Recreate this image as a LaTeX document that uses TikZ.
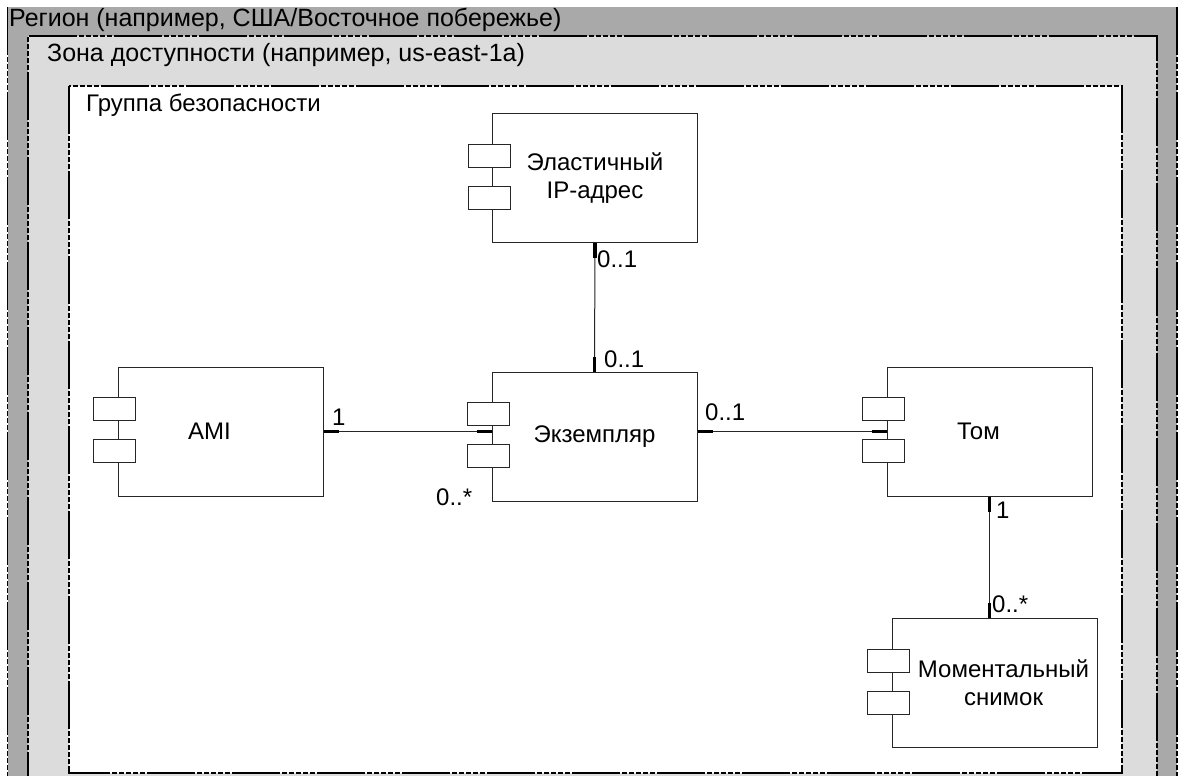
\documentclass[tikz,border=0pt]{standalone}
\usepackage{fontspec}
\setmainfont{Liberation Sans}
\usetikzlibrary{calc}
\definecolor{regiongray}{HTML}{A9A9A9}
\definecolor{zonegray}{HTML}{DCDCDC}

\begin{document}
\begin{tikzpicture}[x=1pt,y=-1pt,font=\fontsize{24}{28}\selectfont]
    \tikzset{frame/.style={line width=2.6pt,dash pattern=on 48pt off 2pt on 5pt off 2pt on 5pt off 2pt on 5pt off 2pt on 5pt off 2pt on 5pt off 2pt}}
    \tikzset{comp/.style={draw=black!85,line width=1pt,fill=white,minimum width=205pt,minimum height=129pt,align=center,inner sep=0pt}}
    \tikzset{port/.style={draw=black!85,line width=1pt,fill=white}}
    \tikzset{assoc/.style={draw=black!85,line width=1pt}}
    \tikzset{tick/.style={line width=3.5pt}}
    \tikzset{mult/.style={inner sep=0pt,anchor=base west}}
    \tikzset{framelabel/.style={mult,font=\fontsize{25}{28}\selectfont}}
    % \tikzset{mult/.append style={font=\small}}
    \useasboundingbox (0,0) rectangle (1179,776);
    \begin{scope}
        \clip (0,0) rectangle (1179,776);
        \fill[regiongray] (8,7) rectangle (1177,800);
        \draw[frame,line width=1.4pt] (7.5,7) -- (7.5,800);
        \draw[frame,line width=1.4pt] (1177,7) -- (1177,800);
        \fill[zonegray] (28,36) rectangle (1157,800);
        \draw[frame] (28,800) -- (28,36) -- (1157,36) -- (1157,800);
        \fill[white] (69,86) rectangle (1122,773);
        \draw[frame] (69,86) rectangle (1122,773);
    \end{scope}
    \node[framelabel] (region) at (9,27) {Регион (например, США/Восточное побережье)};
    \node[framelabel] (zone) at (47,62) {Зона доступности (например, us-east-1a)};
    \node[mult] (group) at (86,112) {Группа безопасности};

    \node[comp] (ip) at (595,178) {Эластичный\\IP-адрес};
    \node[comp] (inst) at (594.5,436.5) {Экземпляр};
    \node[comp] (ami) at (220.5,431.5) {AMI\hspace*{22pt}};
    \node[comp] (tom) at (989.5,431.5) {Том\hspace*{22pt}};
    \node[comp] (snap) at (994.5,683) {\hspace*{18pt}Моментальный\\\hspace*{18pt}снимок};
    \foreach \c in {ip,inst,ami,tom,snap}{
        \draw[port] ($(\c.west)+(-24,-34)$) rectangle ++(42,23);
        \draw[port] ($(\c.west)+(-24,8)$) rectangle ++(42,23);
    }

    \draw[assoc] (ip.south) -- (inst.north);
    \draw[assoc] (ami.east) -- (ami.east -| inst.west);
    \draw[assoc] (inst.east |- tom.west) -- (tom.west);
    \draw[assoc] (tom.south) -- (tom.south |- snap.north);
    \draw[tick] (ip.south) -- ++(0,15);
    \draw[tick] (inst.north) -- ++(0,-15);
    \draw[tick] (ami.east) -- ++(15,0);
    \draw[tick] (ami.east -| inst.west) -- ++(-15,0);
    \draw[tick] (inst.east |- tom.west) -- ++(15,0);
    \draw[tick] (tom.west) -- ++(-15,0);
    \draw[tick] (tom.south) -- ++(0,15);
    \draw[tick] (tom.south |- snap.north) -- ++(0,-15);

    \node[mult] (m1) at (597,267) {0..1};
    \node[mult] (m2) at (604,367) {0..1};
    \node[mult] (m3) at (332,425) {1};
    \node[mult] (m4) at (436,505) {0..*};
    \node[mult] (m5) at (705,420) {0..1};
    \node[mult] (m6) at (996,518) {1};
    \node[mult] (m7) at (992,612) {0..*};
\end{tikzpicture}
\end{document}
